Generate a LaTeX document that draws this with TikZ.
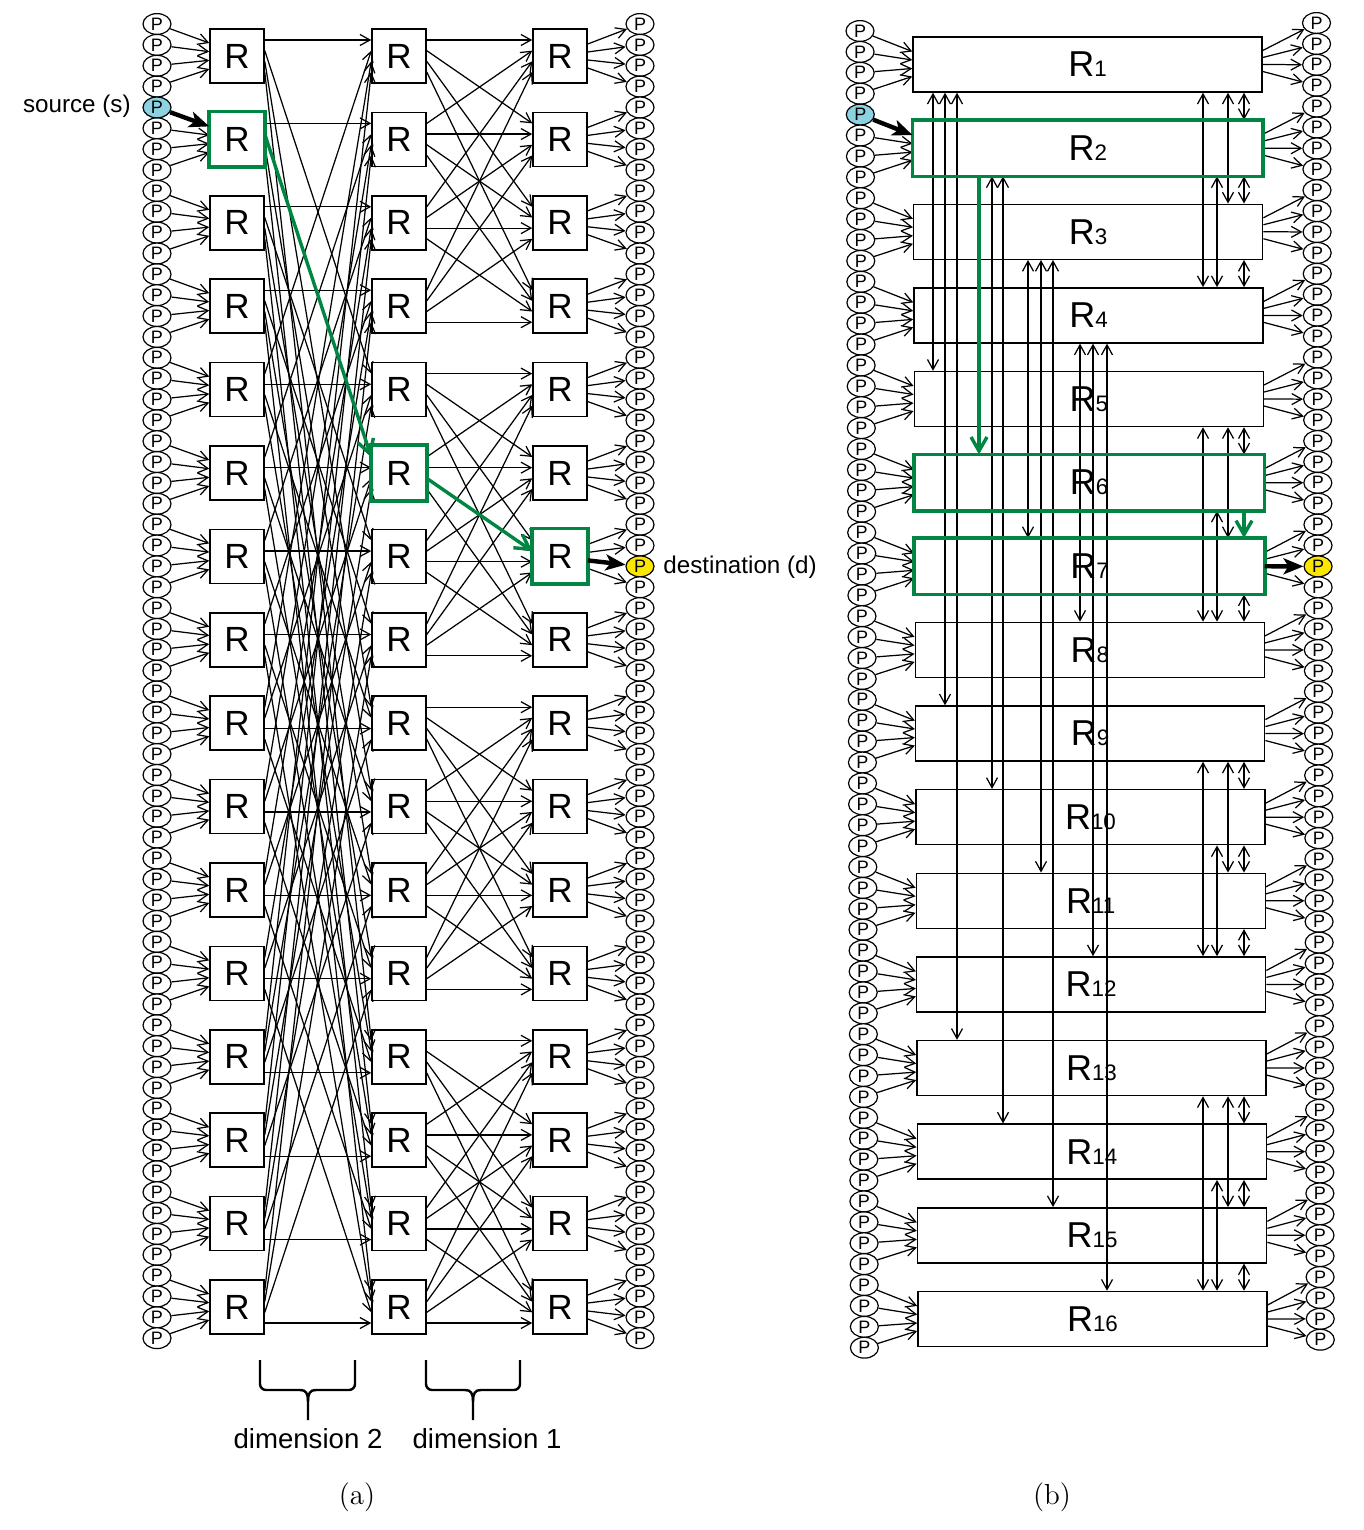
\documentclass[tikz,border=0pt]{standalone}
\usepackage{fontspec}
\newfontfamily\hv{Liberation Sans}
\usetikzlibrary{arrows.meta,shapes.geometric,calc}
\definecolor{mygreen}{RGB}{0,133,66}
\definecolor{srcblue}{RGB}{140,210,225}
\definecolor{dstyellow}{RGB}{250,230,0}
\begin{document}
\begin{tikzpicture}[x=0.5pt,y=-0.5pt,
  pnode/.style={ellipse,draw,line width=0.6pt,minimum width=14pt,minimum height=10.4pt,inner sep=0pt,fill=white,font=\hv\fontsize{9}{9}\selectfont},
  rbox/.style={draw,line width=0.75pt,minimum width=27pt,minimum height=27pt,inner sep=0pt,fill=white,font=\hv\fontsize{17.5}{17.5}\selectfont},
  lbox/.style={draw,line width=0.75pt,minimum width=174.5pt,minimum height=27.5pt,inner sep=0pt,fill=white,font=\hv\fontsize{18}{18}\selectfont},
  arr/.style={line width=0.62pt,-{Straight Barb[length=5pt,width=5.5pt]}},
  darr/.style={line width=0.62pt,{Straight Barb[length=5pt,width=5.5pt]}-{Straight Barb[length=5pt,width=5.5pt]}},
  boldarr/.style={line width=2.2pt,-{Stealth[length=10pt,width=8pt,inset=2.5pt]}},
  garr/.style={draw=mygreen,line width=1.7pt,-{Straight Barb[length=7pt,width=8pt]}},
  gbox/.style={draw=mygreen,line width=1.8pt},
  bracestyle/.style={line width=1.2pt},
  lab/.style={font=\hv\fontsize{12.1}{14}\selectfont,inner sep=0pt},
  dimlab/.style={font=\hv\fontsize{13.8}{16}\selectfont,inner sep=0pt},
  captext/.style={font=\fontsize{14.5}{16}\selectfont,inner sep=0pt}
]
\useasboundingbox (0,0) rectangle (1364,1530);

% ================= (a) =================
\foreach \n in {0,...,63}{
  \pgfmathsetmacro\yy{24+20.86*\n}
  \ifnum\n=4 \def\fc{srcblue}\else\def\fc{white}\fi
  \node[pnode,fill=\fc] (aL-\n) at (157,\yy) {P};
  \ifnum\n=26 \def\fc{dstyellow}\else\def\fc{white}\fi
  \node[pnode,fill=\fc] (aR-\n) at (640,\yy) {P};
}
\foreach \i in {0,...,15}{
  \pgfmathsetmacro\yy{56+83.4*\i}
  \node[rbox] (a1-\i) at (237,\yy) {R};
  \node[rbox] (a2-\i) at (399,\yy) {R};
  \node[rbox] (a3-\i) at (560,\yy) {R};
}
\foreach \i in {0,...,15}{
  \foreach \kk/\off in {0/-13,1/-4.3,2/4.3,3/13}{
    \pgfmathtruncatemacro\n{4*\i+\kk}
    \ifnum\n=4\relax\else
      \draw[arr] (aL-\n) -- ($(a1-\i.west)+(0,\off)$);
    \fi
  }
  \foreach \kk/\off in {0/-12,1/-4,2/4,3/12}{
    \pgfmathtruncatemacro\n{4*\i+\kk}
    \ifnum\n=26\relax\else
      \draw[arr] ($(a3-\i.east)+(0,\off)$) -- (aR-\n);
    \fi
  }
}
\foreach \i in {0,...,15}{
  \foreach \xx in {0,...,3}{
    \pgfmathtruncatemacro\jj{mod(\i,4)+4*\xx}
    \pgfmathsetmacro\offA{-16+10.667*\xx}
    \pgfmathsetmacro\offB{-16+10.667*floor(\i/4)}
    \draw[arr] ($(a1-\i.east)+(0,\offA)$) -- ($(a2-\jj.west)+(0,\offB)$);
    \pgfmathtruncatemacro\kt{4*floor(\i/4)+\xx}
    \pgfmathsetmacro\offC{-16+10.667*mod(\i,4)}
    \draw[arr] ($(a2-\i.east)+(0,\offA)$) -- ($(a3-\kt.west)+(0,\offC)$);
  }
}
\draw[gbox] (a1-1.south west) rectangle (a1-1.north east);
\draw[gbox] (a2-5.south west) rectangle (a2-5.north east);
\draw[gbox] (a3-6.south west) rectangle (a3-6.north east);
\draw[garr] ($(a1-1.east)+(0,-5.33)$) -- ($(a2-5.west)+(0,-16)$);
\draw[garr] ($(a2-5.east)+(0,5.33)$) -- ($(a3-6.west)+(0,-5.33)$);
\draw[boldarr] (aL-4) -- ($(a1-1.west)+(0,-13)$);
\draw[boldarr] ($(a3-6.east)+(0,4)$) -- (aR-26);

\node[lab,anchor=east] (srclab) at (131,106) {source (s)};
\node[lab,anchor=west] (dstlab) at (663,567) {destination (d)};

% braces
\draw[bracestyle,rounded corners=3pt] (260,1360) -- (260,1390) -- (300,1390);
\draw[bracestyle] (300,1390) .. controls (306,1390) and (308,1393) .. (308,1402) -- (308,1420);
\draw[bracestyle,rounded corners=3pt] (355,1360) -- (355,1390) -- (316,1390);
\draw[bracestyle] (316,1390) .. controls (310,1390) and (308,1393) .. (308,1402);
\draw[bracestyle,rounded corners=3pt] (426,1360) -- (426,1390) -- (465,1390);
\draw[bracestyle] (465,1390) .. controls (471,1390) and (473,1393) .. (473,1402) -- (473,1420);
\draw[bracestyle,rounded corners=3pt] (520,1360) -- (520,1390) -- (481,1390);
\draw[bracestyle] (481,1390) .. controls (475,1390) and (473,1393) .. (473,1402);
\node[dimlab] (dim2) at (308,1439) {dimension 2};
\node[dimlab] (dim1) at (487,1439) {dimension 1};
\node[captext] (capa) at (357,1497) {(a)};

% ================= (b) =================
\foreach \n in {0,...,63}{
  \pgfmathsetmacro\yl{31+20.9*\n}
  \pgfmathsetmacro\yr{23+20.9*\n}
  \pgfmathsetmacro\xl{860+0.07*\n}
  \pgfmathsetmacro\xr{1316.5+0.06*\n}
  \ifnum\n=4 \def\fc{srcblue}\else\def\fc{white}\fi
  \node[pnode,fill=\fc] (bL-\n) at (\xl,\yl) {P};
  \ifnum\n=26 \def\fc{dstyellow}\else\def\fc{white}\fi
  \node[pnode,fill=\fc] (bR-\n) at (\xr,\yr) {P};
}
\foreach \i in {0,...,15}{
  \pgfmathsetmacro\yy{64.5+83.63*\i}
  \pgfmathsetmacro\xc{1087.5+0.33*\i}
  \pgfmathtruncatemacro\m{\i+1}
  \node[lbox] (b-\i) at (\xc,\yy) {R{\fontsize{11.2}{11.2}\selectfont\m}};
}
\foreach \i in {0,...,15}{
  \foreach \kk/\off in {0/-13,1/-4.5,2/4,3/12}{
    \pgfmathtruncatemacro\n{4*\i+\kk}
    \ifnum\n=4\relax\else
      \draw[arr] (bL-\n) -- ($(b-\i.west)+(0,\off)$);
    \fi
  }
  \foreach \kk/\off in {0/-14,1/-7,2/0,3/7}{
    \pgfmathtruncatemacro\n{4*\i+\kk}
    \ifnum\n=26\relax\else
      \draw[arr] ($(b-\i.east)+(0,\off)$) -- (bR-\n);
    \fi
  }
}
% dimension 2 links
\foreach \s/\t/\x in {0/4/933,0/8/945,0/12/957,1/9/992,1/13/1003,2/6/1028,2/10/1041,2/14/1053,3/7/1080,3/11/1093,3/15/1107}{
  \coordinate (vx) at (\x,0);
  \draw[darr] (vx |- b-\s.south) -- (vx |- b-\t.north);
}
% dimension 1 links
\foreach \g in {0,...,3}{
  \foreach \ds/\dt/\x in {0/1/1244,1/2/1244,2/3/1244,0/2/1228,0/3/1203,1/3/1217}{
    \pgfmathtruncatemacro\s{4*\g+\ds}
    \pgfmathtruncatemacro\t{4*\g+\dt}
    \pgfmathtruncatemacro\skp{and(\s==5,\t==6)}
    \ifnum\skp=0
      \coordinate (vx) at (\x,0);
      \draw[darr] (vx |- b-\s.south) -- (vx |- b-\t.north);
    \fi
  }
}
\draw[gbox] (b-1.south west) rectangle (b-1.north east);
\draw[gbox] (b-5.south west) rectangle (b-5.north east);
\draw[gbox] (b-6.south west) rectangle (b-6.north east);
\coordinate (gxa) at (979,0);
\draw[garr] (gxa |- b-1.south) -- (gxa |- b-5.north);
\coordinate (gxb) at (1244,0);
\draw[garr] (gxb |- b-5.south) -- (gxb |- b-6.north);
\draw[boldarr] (bL-4) -- ($(b-1.west)+(0,-13)$);
\draw[boldarr] (b-6.east) -- (bR-26);

\node[captext] (capb) at (1052,1497) {(b)};
\end{tikzpicture}
\end{document}
